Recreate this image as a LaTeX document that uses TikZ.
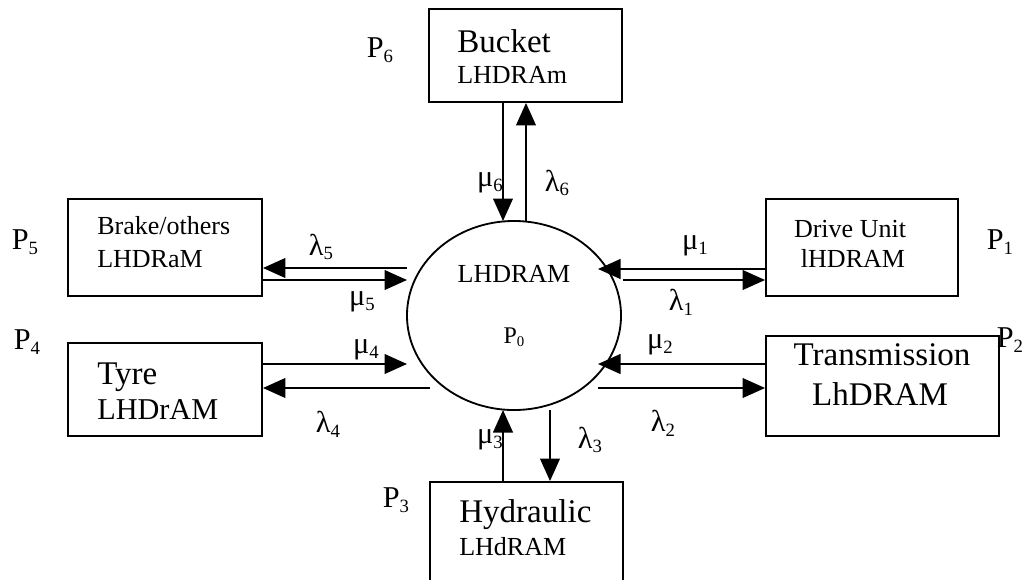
\documentclass[tikz,border=0pt]{standalone}
\usepackage{fontspec}
\usepackage{graphicx}
\setmainfont{Liberation Serif}
\usetikzlibrary{arrows.meta,shapes.geometric}
\newcommand\sbs[1]{\raisebox{-0.35ex}{\scalebox{0.62}{#1}}}
\tikzset{
  >={Triangle[length=16pt,width=14pt]},
  unit/.style={draw,line width=1.3pt,inner sep=0pt},
  flow/.style={->,line width=1.4pt},
  bigtxt/.style={font=\fontsize{23.5}{28}\selectfont,inner sep=0pt},
  midtxt/.style={font=\fontsize{18.5}{22}\selectfont,inner sep=0pt},
  tag/.style={font=\fontsize{21.5}{25}\selectfont,inner sep=0pt},
}
\begin{document}
\begin{tikzpicture}[x=0.025cm,y=-0.025cm]
  \useasboundingbox (0,0) rectangle (1023,579);
  % units
  \node[unit,minimum width=4.825cm,minimum height=2.325cm] (bucket) at (525.5,55.5) {};
  \node[unit,minimum width=4.85cm,minimum height=2.425cm] (brake) at (165,247.5) {};
  \node[unit,minimum width=4.85cm,minimum height=2.325cm] (tyre) at (165,389.5) {};
  \node[unit,minimum width=4.8cm,minimum height=2.425cm] (drive) at (862,247.5) {};
  \node[unit,minimum width=5.825cm,minimum height=2.5cm] (trans) at (882.5,386) {};
  \node[unit,minimum width=4.825cm,minimum height=2.55cm] (hydr) at (526.5,533) {};
  \node[ellipse,draw,line width=1.3pt,minimum width=5.35cm,minimum height=4.725cm,inner sep=0pt] (p0) at (514,315.5) {};

  % texts in the units
  \node[bigtxt,anchor=base west] (bucketA) at (457,52) {Bucket};
  \node[midtxt,anchor=base west] (bucketB) at (457,83) {LHDRAm};
  \node[midtxt,anchor=base west] (brakeA) at (97,234) {Brake/others};
  \node[midtxt,anchor=base west] (brakeB) at (97,267) {LHDRaM};
  \node[bigtxt,anchor=base west] (tyreA) at (97,384) {Tyre};
  \node[tag,anchor=base west] (tyreB) at (97,419) {LHDrAM};
  \node[midtxt,anchor=base] (driveA) at (850,237) {Drive Unit};
  \node[midtxt,anchor=base] (driveB) at (853,267) {lHDRAM};
  \node[bigtxt,anchor=base] (transA) at (882,365) {Transmission};
  \node[bigtxt,anchor=base] (transB) at (880,405) {LhDRAM};
  \node[bigtxt,anchor=base west] (hydrA) at (459,522) {Hydraulic};
  \node[midtxt,anchor=base west] (hydrB) at (459,555) {LHdRAM};
  \node[midtxt,anchor=base] (p0A) at (514,282) {LHDRAM};
  \node[font=\fontsize{17}{19}\selectfont,inner sep=0pt,anchor=base] (p0B) at (514,343) {P\sbs{0}};

  % state probabilities
  \node[tag] (pr1) at (1000,242) {P\sbs{1}};
  \node[tag] (pr2) at (1010,340) {P\sbs{2}};
  \node[tag] (pr3) at (396,500) {P\sbs{3}};
  \node[tag] (pr4) at (27,342) {P\sbs{4}};
  \node[tag] (pr5) at (25,242) {P\sbs{5}};
  \node[tag] (pr6) at (380,50) {P\sbs{6}};

  % circle ends of the transitions
  \coordinate (m1) at (598,269);
  \coordinate (l1) at (623,280);
  \coordinate (m2) at (598,364);
  \coordinate (l2) at (598,388);
  \coordinate (m3) at (503,410);
  \coordinate (l3) at (550,410);
  \coordinate (m4) at (407,364);
  \coordinate (l4) at (430,388);
  \coordinate (m5) at (407,280);
  \coordinate (l5) at (407,268);
  \coordinate (m6) at (503,221);
  \coordinate (l6) at (526,221);

  \draw[flow] (m1 -| drive.west) -- (m1);
  \draw[flow] (l1) -- (l1 -| drive.west);
  \draw[flow] (m2 -| trans.west) -- (m2);
  \draw[flow] (l2) -- (l2 -| trans.west);
  \draw[flow] (m3 |- hydr.north) -- (m3);
  \draw[flow] (l3) -- (l3 |- hydr.north);
  \draw[flow] (m4 -| tyre.east) -- (m4);
  \draw[flow] (l4) -- (l4 -| tyre.east);
  \draw[flow] (m5 -| brake.east) -- (m5);
  \draw[flow] (l5) -- (l5 -| brake.east);
  \draw[flow] (m6 |- bucket.south) -- (m6);
  \draw[flow] (l6) -- (l6 |- bucket.south);

  % rates
  \node[tag] (mu1) at (695,246) {μ\sbs{1}};
  \node[tag] (la1) at (681,302) {λ\sbs{1}};
  \node[tag] (mu2) at (660,345) {μ\sbs{2}};
  \node[tag] (la2) at (663,423) {λ\sbs{2}};
  \node[tag] (mu3) at (490,440) {μ\sbs{3}};
  \node[tag] (la3) at (590,440) {λ\sbs{3}};
  \node[tag] (mu4) at (366,350) {μ\sbs{4}};
  \node[tag] (la4) at (328,424) {λ\sbs{4}};
  \node[tag] (mu5) at (362,302) {μ\sbs{5}};
  \node[tag] (la5) at (321,247) {λ\sbs{5}};
  \node[tag] (mu6) at (490,183) {μ\sbs{6}};
  \node[tag] (la6) at (557,183) {λ\sbs{6}};
\end{tikzpicture}
\end{document}
